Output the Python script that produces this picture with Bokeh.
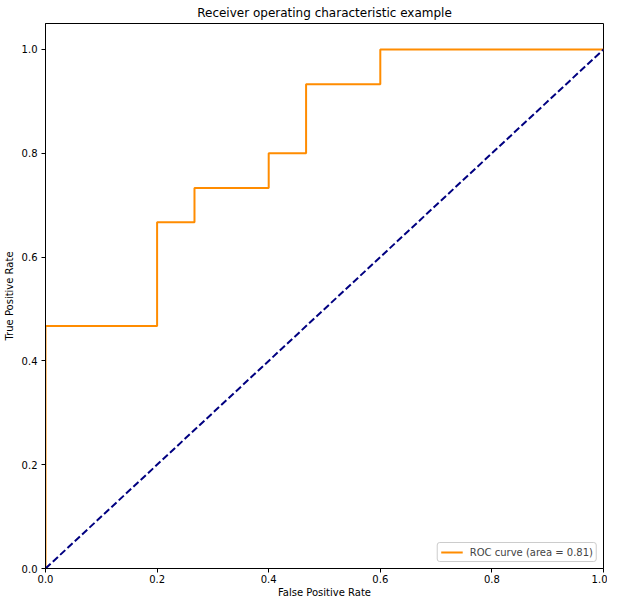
from bokeh.plotting import figure
from bokeh.models import Range1d, FixedTicker, NumeralTickFormatter, Legend, LegendItem, Span
from bokeh.embed import file_html
from bokeh.resources import INLINE

fpr = [0.0, 0.0, 0.2, 0.2, 0.267, 0.267, 0.4, 0.4, 0.467, 0.467, 0.6, 0.6, 1.0]
tpr = [0.0, 0.467, 0.467, 0.667, 0.667, 0.733, 0.733, 0.8, 0.8, 0.933, 0.933, 1.0, 1.0]
diag_x = [0.0, 1.0]
diag_y = [0.0, 1.0]
roc_auc = 0.81
ticks = [0.0, 0.2, 0.4, 0.6, 0.8, 1.0]

FONT = "DejaVu Sans"

p = figure(frame_width=558, frame_height=545, output_backend="svg", toolbar_location=None,
           x_range=Range1d(0.0, 1.0), y_range=Range1d(0.0, 1.05),
           min_border_left=39, min_border_right=4, min_border_top=0, min_border_bottom=0,
           title="Receiver operating characteristic example")
p.title.align = "center"
p.title.text_font = FONT
p.title.text_font_size = "12px"
p.title.text_font_style = "normal"
p.title.text_color = "black"
p.title.standoff = 7
p.title.offset = 0

p.grid.visible = False
p.outline_line_color = "black"
p.outline_line_width = 1
p.background_fill_color = "white"
p.border_fill_color = "white"

for ax in (p.xaxis[0], p.yaxis[0]):
    ax.ticker = FixedTicker(ticks=ticks)
    ax.formatter = NumeralTickFormatter(format="0.0")
    ax.major_tick_in = 0
    ax.major_tick_out = 4
    ax.minor_tick_line_color = None
    ax.major_label_text_font = FONT
    ax.major_label_text_font_size = "10px"
    ax.major_label_text_color = "black"
    ax.major_label_standoff = 2
    ax.axis_label_text_font = FONT
    ax.axis_label_text_font_size = "10px"
    ax.axis_label_text_font_style = "normal"
    ax.axis_label_text_color = "black"
    ax.axis_label_standoff = 3
    ax.axis_line_color = "black"
    ax.major_tick_line_color = "black"

p.xaxis.axis_label = "False Positive Rate"
p.yaxis.axis_label = "True Positive Rate"
p.xaxis.axis_label_standoff = 1
p.yaxis.major_label_standoff = 4
p.yaxis.axis_label_standoff = 4

r_roc = p.line(fpr, tpr, line_color="#ff8c00", line_width=2)
p.line(diag_x, diag_y, line_color="navy", line_width=2, line_dash="7 3")

# spines drawn over the curves, as in the reference
p.add_layout(Span(location=0.0, dimension="height", line_color="black", line_width=1, level="overlay"))
p.add_layout(Span(location=0.0, dimension="width", line_color="black", line_width=1, level="overlay"))

legend = Legend(items=[LegendItem(label="ROC curve (area = %0.2f)" % roc_auc, renderers=[r_roc])],
                location="bottom_right")
legend.label_text_font = FONT
legend.label_text_font_size = "10px"
legend.label_height = 12
legend.glyph_height = 12
legend.glyph_width = 22
legend.label_standoff = 7
legend.padding = 3
legend.spacing = 0
legend.margin = 6
legend.border_line_color = "#cccccc"
legend.border_line_alpha = 1
legend.background_fill_alpha = 0.8
legend.border_radius = 3
p.add_layout(legend)

open("out.html", "w").write(file_html(p, INLINE))
